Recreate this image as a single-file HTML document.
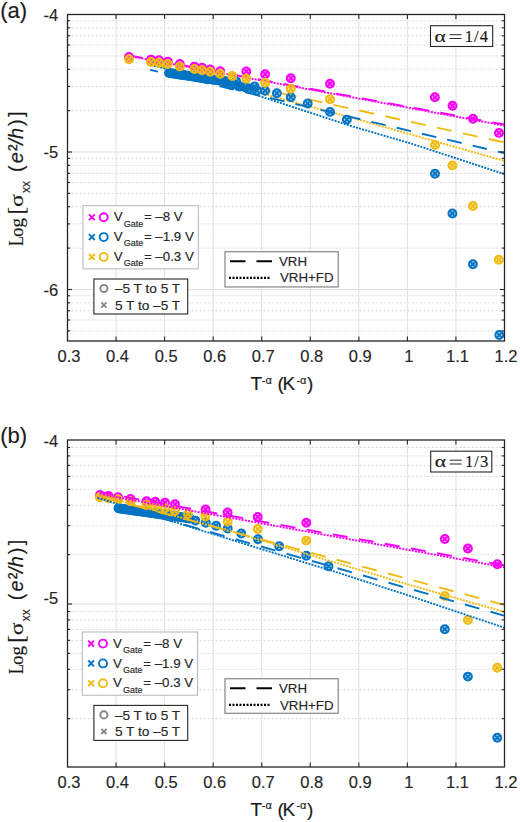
<!DOCTYPE html>
<html><head><meta charset="utf-8"><style>
html,body{margin:0;padding:0;background:#fff;}
svg{display:block;font-family:"Liberation Sans",sans-serif;}
text{stroke:#262626;stroke-width:0.15px;}
</style></head><body>
<svg width="520" height="822" viewBox="0 0 520 822">
<rect width="520" height="822" fill="#fff"/>
<line x1="116.06" y1="14.5" x2="116.06" y2="341.0" stroke="#e0e0e0" stroke-width="1"/>
<line x1="164.61" y1="14.5" x2="164.61" y2="341.0" stroke="#e0e0e0" stroke-width="1"/>
<line x1="213.17" y1="14.5" x2="213.17" y2="341.0" stroke="#e0e0e0" stroke-width="1"/>
<line x1="261.72" y1="14.5" x2="261.72" y2="341.0" stroke="#e0e0e0" stroke-width="1"/>
<line x1="310.28" y1="14.5" x2="310.28" y2="341.0" stroke="#e0e0e0" stroke-width="1"/>
<line x1="358.83" y1="14.5" x2="358.83" y2="341.0" stroke="#e0e0e0" stroke-width="1"/>
<line x1="407.39" y1="14.5" x2="407.39" y2="341.0" stroke="#e0e0e0" stroke-width="1"/>
<line x1="455.94" y1="14.5" x2="455.94" y2="341.0" stroke="#e0e0e0" stroke-width="1"/>
<line x1="67.5" y1="152.00" x2="504.5" y2="152.00" stroke="#e0e0e0" stroke-width="1"/>
<line x1="67.5" y1="110.61" x2="504.5" y2="110.61" stroke="#d8d8d8" stroke-width="1" stroke-dasharray="2 2"/>
<line x1="67.5" y1="86.40" x2="504.5" y2="86.40" stroke="#d8d8d8" stroke-width="1" stroke-dasharray="2 2"/>
<line x1="67.5" y1="69.22" x2="504.5" y2="69.22" stroke="#d8d8d8" stroke-width="1" stroke-dasharray="2 2"/>
<line x1="67.5" y1="55.89" x2="504.5" y2="55.89" stroke="#d8d8d8" stroke-width="1" stroke-dasharray="2 2"/>
<line x1="67.5" y1="45.00" x2="504.5" y2="45.00" stroke="#d8d8d8" stroke-width="1" stroke-dasharray="2 2"/>
<line x1="67.5" y1="35.80" x2="504.5" y2="35.80" stroke="#d8d8d8" stroke-width="1" stroke-dasharray="2 2"/>
<line x1="67.5" y1="27.83" x2="504.5" y2="27.83" stroke="#d8d8d8" stroke-width="1" stroke-dasharray="2 2"/>
<line x1="67.5" y1="20.79" x2="504.5" y2="20.79" stroke="#d8d8d8" stroke-width="1" stroke-dasharray="2 2"/>
<line x1="67.5" y1="289.50" x2="504.5" y2="289.50" stroke="#e0e0e0" stroke-width="1"/>
<line x1="67.5" y1="248.11" x2="504.5" y2="248.11" stroke="#d8d8d8" stroke-width="1" stroke-dasharray="2 2"/>
<line x1="67.5" y1="223.90" x2="504.5" y2="223.90" stroke="#d8d8d8" stroke-width="1" stroke-dasharray="2 2"/>
<line x1="67.5" y1="206.72" x2="504.5" y2="206.72" stroke="#d8d8d8" stroke-width="1" stroke-dasharray="2 2"/>
<line x1="67.5" y1="193.39" x2="504.5" y2="193.39" stroke="#d8d8d8" stroke-width="1" stroke-dasharray="2 2"/>
<line x1="67.5" y1="182.50" x2="504.5" y2="182.50" stroke="#d8d8d8" stroke-width="1" stroke-dasharray="2 2"/>
<line x1="67.5" y1="173.30" x2="504.5" y2="173.30" stroke="#d8d8d8" stroke-width="1" stroke-dasharray="2 2"/>
<line x1="67.5" y1="165.33" x2="504.5" y2="165.33" stroke="#d8d8d8" stroke-width="1" stroke-dasharray="2 2"/>
<line x1="67.5" y1="158.29" x2="504.5" y2="158.29" stroke="#d8d8d8" stroke-width="1" stroke-dasharray="2 2"/>
<line x1="67.5" y1="330.89" x2="504.5" y2="330.89" stroke="#d8d8d8" stroke-width="1" stroke-dasharray="2 2"/>
<line x1="67.5" y1="320.00" x2="504.5" y2="320.00" stroke="#d8d8d8" stroke-width="1" stroke-dasharray="2 2"/>
<line x1="67.5" y1="310.80" x2="504.5" y2="310.80" stroke="#d8d8d8" stroke-width="1" stroke-dasharray="2 2"/>
<line x1="67.5" y1="302.83" x2="504.5" y2="302.83" stroke="#d8d8d8" stroke-width="1" stroke-dasharray="2 2"/>
<line x1="67.5" y1="295.79" x2="504.5" y2="295.79" stroke="#d8d8d8" stroke-width="1" stroke-dasharray="2 2"/>
<path d="M132.0 56.0 L504.0 124.5" stroke="#f500f5" stroke-width="1.9" fill="none" stroke-dasharray="15 11.5" stroke-dashoffset="4.53"/>
<path d="M132.0 56.5 L504.0 125.5" stroke="#f500f5" stroke-width="1.9" fill="none" stroke-dasharray="2 1.2"/>
<path d="M150.0 64.4 L504.0 142.4" stroke="#f1bb12" stroke-width="1.9" fill="none" stroke-dasharray="15 11.5" stroke-dashoffset="24.08"/>
<path d="M150.0 63.5 L350.0 117.2 L504.0 160.8" stroke="#f1bb12" stroke-width="1.9" fill="none" stroke-dasharray="2 1.2"/>
<path d="M150.0 69.8 L504.0 153.0" stroke="#0474c4" stroke-width="1.9" fill="none" stroke-dasharray="14.8 11.2" stroke-dashoffset="6.68"/>
<path d="M151.0 65.0 L218.5 82.3 L250.0 93.0 L350.0 125.7 L413.0 144.1 L504.0 174.0" stroke="#0474c4" stroke-width="1.9" fill="none" stroke-dasharray="2 1.2"/>
<circle cx="129.0" cy="57.0" r="3.95" fill="#f500f5" fill-opacity="0.35" stroke="#f500f5" stroke-width="2.0"/><path d="M126.2 54.2L131.8 59.8M126.2 59.8L131.8 54.2" stroke="#f500f5" stroke-width="1.8" fill="none"/>
<circle cx="151.0" cy="59.6" r="3.95" fill="#f500f5" fill-opacity="0.35" stroke="#f500f5" stroke-width="2.0"/><path d="M148.2 56.8L153.8 62.4M148.2 62.4L153.8 56.8" stroke="#f500f5" stroke-width="1.8" fill="none"/>
<circle cx="159.0" cy="60.3" r="3.95" fill="#f500f5" fill-opacity="0.35" stroke="#f500f5" stroke-width="2.0"/><path d="M156.2 57.5L161.8 63.1M156.2 63.1L161.8 57.5" stroke="#f500f5" stroke-width="1.8" fill="none"/>
<circle cx="167.7" cy="61.6" r="3.95" fill="#f500f5" fill-opacity="0.35" stroke="#f500f5" stroke-width="2.0"/><path d="M164.9 58.8L170.5 64.4M164.9 64.4L170.5 58.8" stroke="#f500f5" stroke-width="1.8" fill="none"/>
<circle cx="179.8" cy="64.0" r="3.95" fill="#f500f5" fill-opacity="0.35" stroke="#f500f5" stroke-width="2.0"/><path d="M177.0 61.2L182.6 66.8M177.0 66.8L182.6 61.2" stroke="#f500f5" stroke-width="1.8" fill="none"/>
<circle cx="194.4" cy="66.6" r="3.95" fill="#f500f5" fill-opacity="0.35" stroke="#f500f5" stroke-width="2.0"/><path d="M191.6 63.8L197.2 69.4M191.6 69.4L197.2 63.8" stroke="#f500f5" stroke-width="1.8" fill="none"/>
<circle cx="202.1" cy="67.8" r="3.95" fill="#f500f5" fill-opacity="0.35" stroke="#f500f5" stroke-width="2.0"/><path d="M199.3 65.0L204.9 70.6M199.3 70.6L204.9 65.0" stroke="#f500f5" stroke-width="1.8" fill="none"/>
<circle cx="210.2" cy="69.4" r="3.95" fill="#f500f5" fill-opacity="0.35" stroke="#f500f5" stroke-width="2.0"/><path d="M207.4 66.6L213.0 72.2M207.4 72.2L213.0 66.6" stroke="#f500f5" stroke-width="1.8" fill="none"/>
<circle cx="220.2" cy="71.2" r="3.95" fill="#f500f5" fill-opacity="0.35" stroke="#f500f5" stroke-width="2.0"/><path d="M217.4 68.4L223.0 74.0M217.4 74.0L223.0 68.4" stroke="#f500f5" stroke-width="1.8" fill="none"/>
<circle cx="246.3" cy="71.4" r="3.95" fill="#f500f5" fill-opacity="0.35" stroke="#f500f5" stroke-width="2.0"/><path d="M243.5 68.6L249.1 74.2M243.5 74.2L249.1 68.6" stroke="#f500f5" stroke-width="1.8" fill="none"/>
<circle cx="265.1" cy="74.2" r="3.95" fill="#f500f5" fill-opacity="0.35" stroke="#f500f5" stroke-width="2.0"/><path d="M262.3 71.4L267.9 77.0M262.3 77.0L267.9 71.4" stroke="#f500f5" stroke-width="1.8" fill="none"/>
<circle cx="290.8" cy="78.2" r="3.95" fill="#f500f5" fill-opacity="0.35" stroke="#f500f5" stroke-width="2.0"/><path d="M288.0 75.4L293.6 81.0M288.0 81.0L293.6 75.4" stroke="#f500f5" stroke-width="1.8" fill="none"/>
<circle cx="330.0" cy="83.8" r="3.95" fill="#f500f5" fill-opacity="0.35" stroke="#f500f5" stroke-width="2.0"/><path d="M327.2 81.0L332.8 86.6M327.2 86.6L332.8 81.0" stroke="#f500f5" stroke-width="1.8" fill="none"/>
<circle cx="434.9" cy="97.3" r="3.95" fill="#f500f5" fill-opacity="0.35" stroke="#f500f5" stroke-width="2.0"/><path d="M432.1 94.5L437.7 100.1M432.1 100.1L437.7 94.5" stroke="#f500f5" stroke-width="1.8" fill="none"/>
<circle cx="452.5" cy="105.8" r="3.95" fill="#f500f5" fill-opacity="0.35" stroke="#f500f5" stroke-width="2.0"/><path d="M449.7 103.0L455.3 108.6M449.7 108.6L455.3 103.0" stroke="#f500f5" stroke-width="1.8" fill="none"/>
<circle cx="473.0" cy="118.7" r="3.95" fill="#f500f5" fill-opacity="0.35" stroke="#f500f5" stroke-width="2.0"/><path d="M470.2 115.9L475.8 121.5M470.2 121.5L475.8 115.9" stroke="#f500f5" stroke-width="1.8" fill="none"/>
<circle cx="499.0" cy="132.9" r="3.95" fill="#f500f5" fill-opacity="0.35" stroke="#f500f5" stroke-width="2.0"/><path d="M496.2 130.1L501.8 135.7M496.2 135.7L501.8 130.1" stroke="#f500f5" stroke-width="1.8" fill="none"/>
<circle cx="169.0" cy="72.9" r="3.95" fill="#0474c4" fill-opacity="0.35" stroke="#0474c4" stroke-width="2.0"/><path d="M166.2 70.1L171.8 75.7M166.2 75.7L171.8 70.1" stroke="#0474c4" stroke-width="1.8" fill="none"/>
<circle cx="170.5" cy="73.1" r="3.95" fill="#0474c4" fill-opacity="0.35" stroke="#0474c4" stroke-width="2.0"/><path d="M167.7 70.3L173.3 75.9M167.7 75.9L173.3 70.3" stroke="#0474c4" stroke-width="1.8" fill="none"/>
<circle cx="172.0" cy="73.4" r="3.95" fill="#0474c4" fill-opacity="0.35" stroke="#0474c4" stroke-width="2.0"/><path d="M169.2 70.6L174.8 76.2M169.2 76.2L174.8 70.6" stroke="#0474c4" stroke-width="1.8" fill="none"/>
<circle cx="173.5" cy="73.6" r="3.95" fill="#0474c4" fill-opacity="0.35" stroke="#0474c4" stroke-width="2.0"/><path d="M170.7 70.8L176.3 76.4M170.7 76.4L176.3 70.8" stroke="#0474c4" stroke-width="1.8" fill="none"/>
<circle cx="175.0" cy="73.8" r="3.95" fill="#0474c4" fill-opacity="0.35" stroke="#0474c4" stroke-width="2.0"/><path d="M172.2 71.0L177.8 76.6M172.2 76.6L177.8 71.0" stroke="#0474c4" stroke-width="1.8" fill="none"/>
<circle cx="176.5" cy="74.0" r="3.95" fill="#0474c4" fill-opacity="0.35" stroke="#0474c4" stroke-width="2.0"/><path d="M173.7 71.2L179.3 76.8M173.7 76.8L179.3 71.2" stroke="#0474c4" stroke-width="1.8" fill="none"/>
<circle cx="178.0" cy="74.3" r="3.95" fill="#0474c4" fill-opacity="0.35" stroke="#0474c4" stroke-width="2.0"/><path d="M175.2 71.5L180.8 77.1M175.2 77.1L180.8 71.5" stroke="#0474c4" stroke-width="1.8" fill="none"/>
<circle cx="179.5" cy="74.5" r="3.95" fill="#0474c4" fill-opacity="0.35" stroke="#0474c4" stroke-width="2.0"/><path d="M176.7 71.7L182.3 77.3M176.7 77.3L182.3 71.7" stroke="#0474c4" stroke-width="1.8" fill="none"/>
<circle cx="181.0" cy="74.7" r="3.95" fill="#0474c4" fill-opacity="0.35" stroke="#0474c4" stroke-width="2.0"/><path d="M178.2 71.9L183.8 77.5M178.2 77.5L183.8 71.9" stroke="#0474c4" stroke-width="1.8" fill="none"/>
<circle cx="182.5" cy="74.9" r="3.95" fill="#0474c4" fill-opacity="0.35" stroke="#0474c4" stroke-width="2.0"/><path d="M179.7 72.1L185.3 77.7M179.7 77.7L185.3 72.1" stroke="#0474c4" stroke-width="1.8" fill="none"/>
<circle cx="184.0" cy="75.2" r="3.95" fill="#0474c4" fill-opacity="0.35" stroke="#0474c4" stroke-width="2.0"/><path d="M181.2 72.4L186.8 78.0M181.2 78.0L186.8 72.4" stroke="#0474c4" stroke-width="1.8" fill="none"/>
<circle cx="185.5" cy="75.4" r="3.95" fill="#0474c4" fill-opacity="0.35" stroke="#0474c4" stroke-width="2.0"/><path d="M182.7 72.6L188.3 78.2M182.7 78.2L188.3 72.6" stroke="#0474c4" stroke-width="1.8" fill="none"/>
<circle cx="187.0" cy="75.6" r="3.95" fill="#0474c4" fill-opacity="0.35" stroke="#0474c4" stroke-width="2.0"/><path d="M184.2 72.8L189.8 78.4M184.2 78.4L189.8 72.8" stroke="#0474c4" stroke-width="1.8" fill="none"/>
<circle cx="188.5" cy="75.8" r="3.95" fill="#0474c4" fill-opacity="0.35" stroke="#0474c4" stroke-width="2.0"/><path d="M185.7 73.0L191.3 78.6M185.7 78.6L191.3 73.0" stroke="#0474c4" stroke-width="1.8" fill="none"/>
<circle cx="190.0" cy="76.1" r="3.95" fill="#0474c4" fill-opacity="0.35" stroke="#0474c4" stroke-width="2.0"/><path d="M187.2 73.3L192.8 78.9M187.2 78.9L192.8 73.3" stroke="#0474c4" stroke-width="1.8" fill="none"/>
<circle cx="191.5" cy="76.3" r="3.95" fill="#0474c4" fill-opacity="0.35" stroke="#0474c4" stroke-width="2.0"/><path d="M188.7 73.5L194.3 79.1M188.7 79.1L194.3 73.5" stroke="#0474c4" stroke-width="1.8" fill="none"/>
<circle cx="193.0" cy="76.5" r="3.95" fill="#0474c4" fill-opacity="0.35" stroke="#0474c4" stroke-width="2.0"/><path d="M190.2 73.7L195.8 79.3M190.2 79.3L195.8 73.7" stroke="#0474c4" stroke-width="1.8" fill="none"/>
<circle cx="194.5" cy="76.7" r="3.95" fill="#0474c4" fill-opacity="0.35" stroke="#0474c4" stroke-width="2.0"/><path d="M191.7 73.9L197.3 79.5M191.7 79.5L197.3 73.9" stroke="#0474c4" stroke-width="1.8" fill="none"/>
<circle cx="196.0" cy="77.0" r="3.95" fill="#0474c4" fill-opacity="0.35" stroke="#0474c4" stroke-width="2.0"/><path d="M193.2 74.2L198.8 79.8M193.2 79.8L198.8 74.2" stroke="#0474c4" stroke-width="1.8" fill="none"/>
<circle cx="197.5" cy="77.2" r="3.95" fill="#0474c4" fill-opacity="0.35" stroke="#0474c4" stroke-width="2.0"/><path d="M194.7 74.4L200.3 80.0M194.7 80.0L200.3 74.4" stroke="#0474c4" stroke-width="1.8" fill="none"/>
<circle cx="199.0" cy="77.4" r="3.95" fill="#0474c4" fill-opacity="0.35" stroke="#0474c4" stroke-width="2.0"/><path d="M196.2 74.6L201.8 80.2M196.2 80.2L201.8 74.6" stroke="#0474c4" stroke-width="1.8" fill="none"/>
<circle cx="200.5" cy="77.7" r="3.95" fill="#0474c4" fill-opacity="0.35" stroke="#0474c4" stroke-width="2.0"/><path d="M197.7 74.9L203.3 80.5M197.7 80.5L203.3 74.9" stroke="#0474c4" stroke-width="1.8" fill="none"/>
<circle cx="202.0" cy="77.9" r="3.95" fill="#0474c4" fill-opacity="0.35" stroke="#0474c4" stroke-width="2.0"/><path d="M199.2 75.1L204.8 80.7M199.2 80.7L204.8 75.1" stroke="#0474c4" stroke-width="1.8" fill="none"/>
<circle cx="203.5" cy="78.1" r="3.95" fill="#0474c4" fill-opacity="0.35" stroke="#0474c4" stroke-width="2.0"/><path d="M200.7 75.3L206.3 80.9M200.7 80.9L206.3 75.3" stroke="#0474c4" stroke-width="1.8" fill="none"/>
<circle cx="205.0" cy="78.3" r="3.95" fill="#0474c4" fill-opacity="0.35" stroke="#0474c4" stroke-width="2.0"/><path d="M202.2 75.5L207.8 81.1M202.2 81.1L207.8 75.5" stroke="#0474c4" stroke-width="1.8" fill="none"/>
<circle cx="206.5" cy="78.6" r="3.95" fill="#0474c4" fill-opacity="0.35" stroke="#0474c4" stroke-width="2.0"/><path d="M203.7 75.8L209.3 81.4M203.7 81.4L209.3 75.8" stroke="#0474c4" stroke-width="1.8" fill="none"/>
<circle cx="208.0" cy="78.8" r="3.95" fill="#0474c4" fill-opacity="0.35" stroke="#0474c4" stroke-width="2.0"/><path d="M205.2 76.0L210.8 81.6M205.2 81.6L210.8 76.0" stroke="#0474c4" stroke-width="1.8" fill="none"/>
<circle cx="209.5" cy="79.0" r="3.95" fill="#0474c4" fill-opacity="0.35" stroke="#0474c4" stroke-width="2.0"/><path d="M206.7 76.2L212.3 81.8M206.7 81.8L212.3 76.2" stroke="#0474c4" stroke-width="1.8" fill="none"/>
<circle cx="211.0" cy="79.2" r="3.95" fill="#0474c4" fill-opacity="0.35" stroke="#0474c4" stroke-width="2.0"/><path d="M208.2 76.4L213.8 82.0M208.2 82.0L213.8 76.4" stroke="#0474c4" stroke-width="1.8" fill="none"/>
<circle cx="212.5" cy="79.5" r="3.95" fill="#0474c4" fill-opacity="0.35" stroke="#0474c4" stroke-width="2.0"/><path d="M209.7 76.7L215.3 82.3M209.7 82.3L215.3 76.7" stroke="#0474c4" stroke-width="1.8" fill="none"/>
<circle cx="214.0" cy="79.7" r="3.95" fill="#0474c4" fill-opacity="0.35" stroke="#0474c4" stroke-width="2.0"/><path d="M211.2 76.9L216.8 82.5M211.2 82.5L216.8 76.9" stroke="#0474c4" stroke-width="1.8" fill="none"/>
<circle cx="215.5" cy="79.9" r="3.95" fill="#0474c4" fill-opacity="0.35" stroke="#0474c4" stroke-width="2.0"/><path d="M212.7 77.1L218.3 82.7M212.7 82.7L218.3 77.1" stroke="#0474c4" stroke-width="1.8" fill="none"/>
<circle cx="217.0" cy="80.1" r="3.95" fill="#0474c4" fill-opacity="0.35" stroke="#0474c4" stroke-width="2.0"/><path d="M214.2 77.3L219.8 82.9M214.2 82.9L219.8 77.3" stroke="#0474c4" stroke-width="1.8" fill="none"/>
<circle cx="218.5" cy="80.4" r="3.95" fill="#0474c4" fill-opacity="0.35" stroke="#0474c4" stroke-width="2.0"/><path d="M215.7 77.6L221.3 83.2M215.7 83.2L221.3 77.6" stroke="#0474c4" stroke-width="1.8" fill="none"/>
<circle cx="220.0" cy="80.6" r="3.95" fill="#0474c4" fill-opacity="0.35" stroke="#0474c4" stroke-width="2.0"/><path d="M217.2 77.8L222.8 83.4M217.2 83.4L222.8 77.8" stroke="#0474c4" stroke-width="1.8" fill="none"/>
<circle cx="221.5" cy="80.8" r="3.95" fill="#0474c4" fill-opacity="0.35" stroke="#0474c4" stroke-width="2.0"/><path d="M218.7 78.0L224.3 83.6M218.7 83.6L224.3 78.0" stroke="#0474c4" stroke-width="1.8" fill="none"/>
<circle cx="223.0" cy="81.0" r="3.95" fill="#0474c4" fill-opacity="0.35" stroke="#0474c4" stroke-width="2.0"/><path d="M220.2 78.2L225.8 83.8M220.2 83.8L225.8 78.2" stroke="#0474c4" stroke-width="1.8" fill="none"/>
<circle cx="224.5" cy="81.3" r="3.95" fill="#0474c4" fill-opacity="0.35" stroke="#0474c4" stroke-width="2.0"/><path d="M221.7 78.5L227.3 84.1M221.7 84.1L227.3 78.5" stroke="#0474c4" stroke-width="1.8" fill="none"/>
<circle cx="226.0" cy="81.5" r="3.95" fill="#0474c4" fill-opacity="0.35" stroke="#0474c4" stroke-width="2.0"/><path d="M223.2 78.7L228.8 84.3M223.2 84.3L228.8 78.7" stroke="#0474c4" stroke-width="1.8" fill="none"/>
<circle cx="231.0" cy="85.0" r="3.95" fill="#0474c4" fill-opacity="0.35" stroke="#0474c4" stroke-width="2.0"/><path d="M228.2 82.2L233.8 87.8M228.2 87.8L233.8 82.2" stroke="#0474c4" stroke-width="1.8" fill="none"/>
<circle cx="240.0" cy="86.5" r="3.95" fill="#0474c4" fill-opacity="0.35" stroke="#0474c4" stroke-width="2.0"/><path d="M237.2 83.7L242.8 89.3M237.2 89.3L242.8 83.7" stroke="#0474c4" stroke-width="1.8" fill="none"/>
<circle cx="249.0" cy="88.5" r="3.95" fill="#0474c4" fill-opacity="0.35" stroke="#0474c4" stroke-width="2.0"/><path d="M246.2 85.7L251.8 91.3M246.2 91.3L251.8 85.7" stroke="#0474c4" stroke-width="1.8" fill="none"/>
<circle cx="257.0" cy="90.5" r="3.95" fill="#0474c4" fill-opacity="0.35" stroke="#0474c4" stroke-width="2.0"/><path d="M254.2 87.7L259.8 93.3M254.2 93.3L259.8 87.7" stroke="#0474c4" stroke-width="1.8" fill="none"/>
<circle cx="228.0" cy="83.8" r="3.95" fill="#0474c4" fill-opacity="0.35" stroke="#0474c4" stroke-width="2.0"/><path d="M225.2 81.0L230.8 86.6M225.2 86.6L230.8 81.0" stroke="#0474c4" stroke-width="1.8" fill="none"/>
<circle cx="236.2" cy="81.5" r="3.95" fill="#0474c4" fill-opacity="0.35" stroke="#0474c4" stroke-width="2.0"/><path d="M233.4 78.7L239.0 84.3M233.4 84.3L239.0 78.7" stroke="#0474c4" stroke-width="1.8" fill="none"/>
<circle cx="238.5" cy="86.2" r="3.95" fill="#0474c4" fill-opacity="0.35" stroke="#0474c4" stroke-width="2.0"/><path d="M235.7 83.4L241.3 89.0M235.7 89.0L241.3 83.4" stroke="#0474c4" stroke-width="1.8" fill="none"/>
<circle cx="245.4" cy="87.3" r="3.95" fill="#0474c4" fill-opacity="0.35" stroke="#0474c4" stroke-width="2.0"/><path d="M242.6 84.5L248.2 90.1M242.6 90.1L248.2 84.5" stroke="#0474c4" stroke-width="1.8" fill="none"/>
<circle cx="254.6" cy="86.5" r="3.95" fill="#0474c4" fill-opacity="0.35" stroke="#0474c4" stroke-width="2.0"/><path d="M251.8 83.7L257.4 89.3M251.8 89.3L257.4 83.7" stroke="#0474c4" stroke-width="1.8" fill="none"/>
<circle cx="265.1" cy="90.7" r="3.95" fill="#0474c4" fill-opacity="0.35" stroke="#0474c4" stroke-width="2.0"/><path d="M262.3 87.9L267.9 93.5M262.3 93.5L267.9 87.9" stroke="#0474c4" stroke-width="1.8" fill="none"/>
<circle cx="276.9" cy="93.2" r="3.95" fill="#0474c4" fill-opacity="0.35" stroke="#0474c4" stroke-width="2.0"/><path d="M274.1 90.4L279.7 96.0M274.1 96.0L279.7 90.4" stroke="#0474c4" stroke-width="1.8" fill="none"/>
<circle cx="290.8" cy="97.3" r="3.95" fill="#0474c4" fill-opacity="0.35" stroke="#0474c4" stroke-width="2.0"/><path d="M288.0 94.5L293.6 100.1M288.0 100.1L293.6 94.5" stroke="#0474c4" stroke-width="1.8" fill="none"/>
<circle cx="307.7" cy="103.5" r="3.95" fill="#0474c4" fill-opacity="0.35" stroke="#0474c4" stroke-width="2.0"/><path d="M304.9 100.7L310.5 106.3M304.9 106.3L310.5 100.7" stroke="#0474c4" stroke-width="1.8" fill="none"/>
<circle cx="330.0" cy="111.9" r="3.95" fill="#0474c4" fill-opacity="0.35" stroke="#0474c4" stroke-width="2.0"/><path d="M327.2 109.1L332.8 114.7M327.2 114.7L332.8 109.1" stroke="#0474c4" stroke-width="1.8" fill="none"/>
<circle cx="346.9" cy="119.6" r="3.95" fill="#0474c4" fill-opacity="0.35" stroke="#0474c4" stroke-width="2.0"/><path d="M344.1 116.8L349.7 122.4M344.1 122.4L349.7 116.8" stroke="#0474c4" stroke-width="1.8" fill="none"/>
<circle cx="435.0" cy="173.7" r="3.95" fill="#0474c4" fill-opacity="0.35" stroke="#0474c4" stroke-width="2.0"/><path d="M432.2 170.9L437.8 176.5M432.2 176.5L437.8 170.9" stroke="#0474c4" stroke-width="1.8" fill="none"/>
<circle cx="452.4" cy="213.5" r="3.95" fill="#0474c4" fill-opacity="0.35" stroke="#0474c4" stroke-width="2.0"/><path d="M449.6 210.7L455.2 216.3M449.6 216.3L455.2 210.7" stroke="#0474c4" stroke-width="1.8" fill="none"/>
<circle cx="472.9" cy="264.2" r="3.95" fill="#0474c4" fill-opacity="0.35" stroke="#0474c4" stroke-width="2.0"/><path d="M470.1 261.4L475.7 267.0M470.1 267.0L475.7 261.4" stroke="#0474c4" stroke-width="1.8" fill="none"/>
<circle cx="499.3" cy="335.0" r="3.95" fill="#0474c4" fill-opacity="0.35" stroke="#0474c4" stroke-width="2.0"/><path d="M496.5 332.2L502.1 337.8M496.5 337.8L502.1 332.2" stroke="#0474c4" stroke-width="1.8" fill="none"/>
<circle cx="129.1" cy="59.2" r="3.95" fill="#f1bb12" fill-opacity="0.35" stroke="#f1bb12" stroke-width="2.0"/><path d="M126.3 56.4L131.9 62.0M126.3 62.0L131.9 56.4" stroke="#f1bb12" stroke-width="1.8" fill="none"/>
<circle cx="151.0" cy="62.0" r="3.95" fill="#f1bb12" fill-opacity="0.35" stroke="#f1bb12" stroke-width="2.0"/><path d="M148.2 59.2L153.8 64.8M148.2 64.8L153.8 59.2" stroke="#f1bb12" stroke-width="1.8" fill="none"/>
<circle cx="159.0" cy="62.7" r="3.95" fill="#f1bb12" fill-opacity="0.35" stroke="#f1bb12" stroke-width="2.0"/><path d="M156.2 59.9L161.8 65.5M156.2 65.5L161.8 59.9" stroke="#f1bb12" stroke-width="1.8" fill="none"/>
<circle cx="167.7" cy="64.0" r="3.95" fill="#f1bb12" fill-opacity="0.35" stroke="#f1bb12" stroke-width="2.0"/><path d="M164.9 61.2L170.5 66.8M164.9 66.8L170.5 61.2" stroke="#f1bb12" stroke-width="1.8" fill="none"/>
<circle cx="179.8" cy="66.4" r="3.95" fill="#f1bb12" fill-opacity="0.35" stroke="#f1bb12" stroke-width="2.0"/><path d="M177.0 63.6L182.6 69.2M177.0 69.2L182.6 63.6" stroke="#f1bb12" stroke-width="1.8" fill="none"/>
<circle cx="194.4" cy="69.0" r="3.95" fill="#f1bb12" fill-opacity="0.35" stroke="#f1bb12" stroke-width="2.0"/><path d="M191.6 66.2L197.2 71.8M191.6 71.8L197.2 66.2" stroke="#f1bb12" stroke-width="1.8" fill="none"/>
<circle cx="202.1" cy="70.2" r="3.95" fill="#f1bb12" fill-opacity="0.35" stroke="#f1bb12" stroke-width="2.0"/><path d="M199.3 67.4L204.9 73.0M199.3 73.0L204.9 67.4" stroke="#f1bb12" stroke-width="1.8" fill="none"/>
<circle cx="210.2" cy="71.8" r="3.95" fill="#f1bb12" fill-opacity="0.35" stroke="#f1bb12" stroke-width="2.0"/><path d="M207.4 69.0L213.0 74.6M207.4 74.6L213.0 69.0" stroke="#f1bb12" stroke-width="1.8" fill="none"/>
<circle cx="220.2" cy="73.7" r="3.95" fill="#f1bb12" fill-opacity="0.35" stroke="#f1bb12" stroke-width="2.0"/><path d="M217.4 70.9L223.0 76.5M217.4 76.5L223.0 70.9" stroke="#f1bb12" stroke-width="1.8" fill="none"/>
<circle cx="232.2" cy="76.0" r="3.95" fill="#f1bb12" fill-opacity="0.35" stroke="#f1bb12" stroke-width="2.0"/><path d="M229.4 73.2L235.0 78.8M229.4 78.8L235.0 73.2" stroke="#f1bb12" stroke-width="1.8" fill="none"/>
<circle cx="246.3" cy="78.8" r="3.95" fill="#f1bb12" fill-opacity="0.35" stroke="#f1bb12" stroke-width="2.0"/><path d="M243.5 76.0L249.1 81.6M243.5 81.6L249.1 76.0" stroke="#f1bb12" stroke-width="1.8" fill="none"/>
<circle cx="265.1" cy="82.7" r="3.95" fill="#f1bb12" fill-opacity="0.35" stroke="#f1bb12" stroke-width="2.0"/><path d="M262.3 79.9L267.9 85.5M262.3 85.5L267.9 79.9" stroke="#f1bb12" stroke-width="1.8" fill="none"/>
<circle cx="290.8" cy="88.8" r="3.95" fill="#f1bb12" fill-opacity="0.35" stroke="#f1bb12" stroke-width="2.0"/><path d="M288.0 86.0L293.6 91.6M288.0 91.6L293.6 86.0" stroke="#f1bb12" stroke-width="1.8" fill="none"/>
<circle cx="330.0" cy="99.2" r="3.95" fill="#f1bb12" fill-opacity="0.35" stroke="#f1bb12" stroke-width="2.0"/><path d="M327.2 96.4L332.8 102.0M327.2 102.0L332.8 96.4" stroke="#f1bb12" stroke-width="1.8" fill="none"/>
<circle cx="435.0" cy="145.0" r="3.95" fill="#f1bb12" fill-opacity="0.35" stroke="#f1bb12" stroke-width="2.0"/><path d="M432.2 142.2L437.8 147.8M432.2 147.8L437.8 142.2" stroke="#f1bb12" stroke-width="1.8" fill="none"/>
<circle cx="452.4" cy="165.4" r="3.95" fill="#f1bb12" fill-opacity="0.35" stroke="#f1bb12" stroke-width="2.0"/><path d="M449.6 162.6L455.2 168.2M449.6 168.2L455.2 162.6" stroke="#f1bb12" stroke-width="1.8" fill="none"/>
<circle cx="472.9" cy="206.0" r="3.95" fill="#f1bb12" fill-opacity="0.35" stroke="#f1bb12" stroke-width="2.0"/><path d="M470.1 203.2L475.7 208.8M470.1 208.8L475.7 203.2" stroke="#f1bb12" stroke-width="1.8" fill="none"/>
<circle cx="498.8" cy="259.7" r="3.95" fill="#f1bb12" fill-opacity="0.35" stroke="#f1bb12" stroke-width="2.0"/><path d="M496.0 256.9L501.6 262.5M496.0 262.5L501.6 256.9" stroke="#f1bb12" stroke-width="1.8" fill="none"/>
<line x1="116.06" y1="341.0" x2="116.06" y2="336.5" stroke="#262626" stroke-width="1.1"/>
<line x1="116.06" y1="14.5" x2="116.06" y2="19.0" stroke="#262626" stroke-width="1.1"/>
<line x1="164.61" y1="341.0" x2="164.61" y2="336.5" stroke="#262626" stroke-width="1.1"/>
<line x1="164.61" y1="14.5" x2="164.61" y2="19.0" stroke="#262626" stroke-width="1.1"/>
<line x1="213.17" y1="341.0" x2="213.17" y2="336.5" stroke="#262626" stroke-width="1.1"/>
<line x1="213.17" y1="14.5" x2="213.17" y2="19.0" stroke="#262626" stroke-width="1.1"/>
<line x1="261.72" y1="341.0" x2="261.72" y2="336.5" stroke="#262626" stroke-width="1.1"/>
<line x1="261.72" y1="14.5" x2="261.72" y2="19.0" stroke="#262626" stroke-width="1.1"/>
<line x1="310.28" y1="341.0" x2="310.28" y2="336.5" stroke="#262626" stroke-width="1.1"/>
<line x1="310.28" y1="14.5" x2="310.28" y2="19.0" stroke="#262626" stroke-width="1.1"/>
<line x1="358.83" y1="341.0" x2="358.83" y2="336.5" stroke="#262626" stroke-width="1.1"/>
<line x1="358.83" y1="14.5" x2="358.83" y2="19.0" stroke="#262626" stroke-width="1.1"/>
<line x1="407.39" y1="341.0" x2="407.39" y2="336.5" stroke="#262626" stroke-width="1.1"/>
<line x1="407.39" y1="14.5" x2="407.39" y2="19.0" stroke="#262626" stroke-width="1.1"/>
<line x1="455.94" y1="341.0" x2="455.94" y2="336.5" stroke="#262626" stroke-width="1.1"/>
<line x1="455.94" y1="14.5" x2="455.94" y2="19.0" stroke="#262626" stroke-width="1.1"/>
<line x1="67.5" y1="152.00" x2="72.0" y2="152.00" stroke="#262626" stroke-width="1.1"/>
<line x1="504.5" y1="152.00" x2="500.0" y2="152.00" stroke="#262626" stroke-width="1.1"/>
<line x1="67.5" y1="110.61" x2="70.2" y2="110.61" stroke="#262626" stroke-width="1.1"/>
<line x1="504.5" y1="110.61" x2="501.8" y2="110.61" stroke="#262626" stroke-width="1.1"/>
<line x1="67.5" y1="86.40" x2="70.2" y2="86.40" stroke="#262626" stroke-width="1.1"/>
<line x1="504.5" y1="86.40" x2="501.8" y2="86.40" stroke="#262626" stroke-width="1.1"/>
<line x1="67.5" y1="69.22" x2="70.2" y2="69.22" stroke="#262626" stroke-width="1.1"/>
<line x1="504.5" y1="69.22" x2="501.8" y2="69.22" stroke="#262626" stroke-width="1.1"/>
<line x1="67.5" y1="55.89" x2="70.2" y2="55.89" stroke="#262626" stroke-width="1.1"/>
<line x1="504.5" y1="55.89" x2="501.8" y2="55.89" stroke="#262626" stroke-width="1.1"/>
<line x1="67.5" y1="45.00" x2="70.2" y2="45.00" stroke="#262626" stroke-width="1.1"/>
<line x1="504.5" y1="45.00" x2="501.8" y2="45.00" stroke="#262626" stroke-width="1.1"/>
<line x1="67.5" y1="35.80" x2="70.2" y2="35.80" stroke="#262626" stroke-width="1.1"/>
<line x1="504.5" y1="35.80" x2="501.8" y2="35.80" stroke="#262626" stroke-width="1.1"/>
<line x1="67.5" y1="27.83" x2="70.2" y2="27.83" stroke="#262626" stroke-width="1.1"/>
<line x1="504.5" y1="27.83" x2="501.8" y2="27.83" stroke="#262626" stroke-width="1.1"/>
<line x1="67.5" y1="20.79" x2="70.2" y2="20.79" stroke="#262626" stroke-width="1.1"/>
<line x1="504.5" y1="20.79" x2="501.8" y2="20.79" stroke="#262626" stroke-width="1.1"/>
<line x1="67.5" y1="289.50" x2="72.0" y2="289.50" stroke="#262626" stroke-width="1.1"/>
<line x1="504.5" y1="289.50" x2="500.0" y2="289.50" stroke="#262626" stroke-width="1.1"/>
<line x1="67.5" y1="248.11" x2="70.2" y2="248.11" stroke="#262626" stroke-width="1.1"/>
<line x1="504.5" y1="248.11" x2="501.8" y2="248.11" stroke="#262626" stroke-width="1.1"/>
<line x1="67.5" y1="223.90" x2="70.2" y2="223.90" stroke="#262626" stroke-width="1.1"/>
<line x1="504.5" y1="223.90" x2="501.8" y2="223.90" stroke="#262626" stroke-width="1.1"/>
<line x1="67.5" y1="206.72" x2="70.2" y2="206.72" stroke="#262626" stroke-width="1.1"/>
<line x1="504.5" y1="206.72" x2="501.8" y2="206.72" stroke="#262626" stroke-width="1.1"/>
<line x1="67.5" y1="193.39" x2="70.2" y2="193.39" stroke="#262626" stroke-width="1.1"/>
<line x1="504.5" y1="193.39" x2="501.8" y2="193.39" stroke="#262626" stroke-width="1.1"/>
<line x1="67.5" y1="182.50" x2="70.2" y2="182.50" stroke="#262626" stroke-width="1.1"/>
<line x1="504.5" y1="182.50" x2="501.8" y2="182.50" stroke="#262626" stroke-width="1.1"/>
<line x1="67.5" y1="173.30" x2="70.2" y2="173.30" stroke="#262626" stroke-width="1.1"/>
<line x1="504.5" y1="173.30" x2="501.8" y2="173.30" stroke="#262626" stroke-width="1.1"/>
<line x1="67.5" y1="165.33" x2="70.2" y2="165.33" stroke="#262626" stroke-width="1.1"/>
<line x1="504.5" y1="165.33" x2="501.8" y2="165.33" stroke="#262626" stroke-width="1.1"/>
<line x1="67.5" y1="158.29" x2="70.2" y2="158.29" stroke="#262626" stroke-width="1.1"/>
<line x1="504.5" y1="158.29" x2="501.8" y2="158.29" stroke="#262626" stroke-width="1.1"/>
<line x1="67.5" y1="330.89" x2="70.2" y2="330.89" stroke="#262626" stroke-width="1.1"/>
<line x1="504.5" y1="330.89" x2="501.8" y2="330.89" stroke="#262626" stroke-width="1.1"/>
<line x1="67.5" y1="320.00" x2="70.2" y2="320.00" stroke="#262626" stroke-width="1.1"/>
<line x1="504.5" y1="320.00" x2="501.8" y2="320.00" stroke="#262626" stroke-width="1.1"/>
<line x1="67.5" y1="310.80" x2="70.2" y2="310.80" stroke="#262626" stroke-width="1.1"/>
<line x1="504.5" y1="310.80" x2="501.8" y2="310.80" stroke="#262626" stroke-width="1.1"/>
<line x1="67.5" y1="302.83" x2="70.2" y2="302.83" stroke="#262626" stroke-width="1.1"/>
<line x1="504.5" y1="302.83" x2="501.8" y2="302.83" stroke="#262626" stroke-width="1.1"/>
<line x1="67.5" y1="295.79" x2="70.2" y2="295.79" stroke="#262626" stroke-width="1.1"/>
<line x1="504.5" y1="295.79" x2="501.8" y2="295.79" stroke="#262626" stroke-width="1.1"/>
<rect x="67.5" y="14.5" width="437.0" height="326.5" fill="none" stroke="#262626" stroke-width="1.3"/>
<text x="69.00" y="362.0" font-size="16.5" text-anchor="middle" fill="#262626">0.3</text>
<text x="117.56" y="362.0" font-size="16.5" text-anchor="middle" fill="#262626">0.4</text>
<text x="166.11" y="362.0" font-size="16.5" text-anchor="middle" fill="#262626">0.5</text>
<text x="214.67" y="362.0" font-size="16.5" text-anchor="middle" fill="#262626">0.6</text>
<text x="263.22" y="362.0" font-size="16.5" text-anchor="middle" fill="#262626">0.7</text>
<text x="311.78" y="362.0" font-size="16.5" text-anchor="middle" fill="#262626">0.8</text>
<text x="360.33" y="362.0" font-size="16.5" text-anchor="middle" fill="#262626">0.9</text>
<text x="408.89" y="362.0" font-size="16.5" text-anchor="middle" fill="#262626">1</text>
<text x="457.44" y="362.0" font-size="16.5" text-anchor="middle" fill="#262626">1.1</text>
<text x="506.00" y="362.0" font-size="16.5" text-anchor="middle" fill="#262626">1.2</text>
<text x="58.2" y="20.50" font-size="16.5" text-anchor="end" fill="#262626">-4</text>
<text x="58.2" y="158.00" font-size="16.5" text-anchor="end" fill="#262626">-5</text>
<text x="58.2" y="295.50" font-size="16.5" text-anchor="end" fill="#262626">-6</text>
<rect x="83" y="205.7" width="115.3" height="63.2" fill="#fff" stroke="#b4b4bc" stroke-width="1"/>
<path d="M88.9 214.4L94.7 220.2M88.9 220.2L94.7 214.4" stroke="#f500f5" stroke-width="1.9" fill="none"/>
<circle cx="103.7" cy="217.3" r="4" fill="none" stroke="#f500f5" stroke-width="1.9"/>
<text x="113.8" y="221.4" font-size="13.3" fill="#262626">V</text>
<text x="123.8" y="226.6" font-size="9" fill="#262626">Gate</text>
<text x="143.9" y="221.4" font-size="13.3" fill="#262626">= –8 V</text>
<path d="M88.9 234.2L94.7 240.0M88.9 240.0L94.7 234.2" stroke="#0474c4" stroke-width="1.9" fill="none"/>
<circle cx="103.7" cy="237.1" r="4" fill="none" stroke="#0474c4" stroke-width="1.9"/>
<text x="113.8" y="241.2" font-size="13.3" fill="#262626">V</text>
<text x="123.8" y="246.4" font-size="9" fill="#262626">Gate</text>
<text x="143.9" y="241.2" font-size="13.3" fill="#262626">= –1.9 V</text>
<path d="M88.9 254.0L94.7 259.8M88.9 259.8L94.7 254.0" stroke="#f1bb12" stroke-width="1.9" fill="none"/>
<circle cx="103.7" cy="256.9" r="4" fill="none" stroke="#f1bb12" stroke-width="1.9"/>
<text x="113.8" y="261.0" font-size="13.3" fill="#262626">V</text>
<text x="123.8" y="266.2" font-size="9" fill="#262626">Gate</text>
<text x="143.9" y="261.0" font-size="13.3" fill="#262626">= –0.3 V</text>
<rect x="93.9" y="279" width="93.8" height="35" fill="#fff" stroke="#262626" stroke-width="1.1"/>
<circle cx="103.9" cy="288.5" r="3.6" fill="none" stroke="#858585" stroke-width="1.9"/>
<path d="M101.3 302.4L106.5 307.6M101.3 307.6L106.5 302.4" stroke="#858585" stroke-width="1.8" fill="none"/>
<text x="114.9" y="293.1" font-size="13.65" fill="#262626">–5 T to 5 T</text>
<text x="114.9" y="309.6" font-size="13.65" fill="#262626">5 T to –5 T</text>
<rect x="225" y="251.75" width="113.2" height="35.2" fill="#fff" stroke="#7a7a7a" stroke-width="1.1"/>
<path d="M230 261.25H272" stroke="#000" stroke-width="2.2" stroke-dasharray="15.5 11"/>
<path d="M229 277.95H271" stroke="#000" stroke-width="2.2" stroke-dasharray="2 1.5"/>
<text x="279.0" y="265.8" font-size="13.3" fill="#262626">VRH</text>
<text x="280.0" y="282.4" font-size="13.3" fill="#262626">VRH+FD</text>
<rect x="430.5" y="25.7" width="62.2" height="20.8" fill="#fff" stroke="#262626" stroke-width="1.1"/>
<text x="342.13" y="41.9" font-size="17" font-family="Liberation Serif" fill="#1a1a1a" transform="scale(1.27,1)">α</text>
<path d="M449.5 34.7H461.5M449.5 38.5H461.5" stroke="#111" stroke-width="0.9"/>
<text x="464.7" y="41.9" font-size="16.5" font-family="Liberation Serif" fill="#111" letter-spacing="1.1">1/4</text>
<line x1="116.06" y1="440.0" x2="116.06" y2="767.0" stroke="#e0e0e0" stroke-width="1"/>
<line x1="164.61" y1="440.0" x2="164.61" y2="767.0" stroke="#e0e0e0" stroke-width="1"/>
<line x1="213.17" y1="440.0" x2="213.17" y2="767.0" stroke="#e0e0e0" stroke-width="1"/>
<line x1="261.72" y1="440.0" x2="261.72" y2="767.0" stroke="#e0e0e0" stroke-width="1"/>
<line x1="310.28" y1="440.0" x2="310.28" y2="767.0" stroke="#e0e0e0" stroke-width="1"/>
<line x1="358.83" y1="440.0" x2="358.83" y2="767.0" stroke="#e0e0e0" stroke-width="1"/>
<line x1="407.39" y1="440.0" x2="407.39" y2="767.0" stroke="#e0e0e0" stroke-width="1"/>
<line x1="455.94" y1="440.0" x2="455.94" y2="767.0" stroke="#e0e0e0" stroke-width="1"/>
<line x1="67.5" y1="604.00" x2="504.5" y2="604.00" stroke="#e0e0e0" stroke-width="1"/>
<line x1="67.5" y1="554.63" x2="504.5" y2="554.63" stroke="#d8d8d8" stroke-width="1" stroke-dasharray="2 2"/>
<line x1="67.5" y1="525.75" x2="504.5" y2="525.75" stroke="#d8d8d8" stroke-width="1" stroke-dasharray="2 2"/>
<line x1="67.5" y1="505.26" x2="504.5" y2="505.26" stroke="#d8d8d8" stroke-width="1" stroke-dasharray="2 2"/>
<line x1="67.5" y1="489.37" x2="504.5" y2="489.37" stroke="#d8d8d8" stroke-width="1" stroke-dasharray="2 2"/>
<line x1="67.5" y1="476.38" x2="504.5" y2="476.38" stroke="#d8d8d8" stroke-width="1" stroke-dasharray="2 2"/>
<line x1="67.5" y1="465.40" x2="504.5" y2="465.40" stroke="#d8d8d8" stroke-width="1" stroke-dasharray="2 2"/>
<line x1="67.5" y1="455.89" x2="504.5" y2="455.89" stroke="#d8d8d8" stroke-width="1" stroke-dasharray="2 2"/>
<line x1="67.5" y1="447.50" x2="504.5" y2="447.50" stroke="#d8d8d8" stroke-width="1" stroke-dasharray="2 2"/>
<line x1="67.5" y1="718.63" x2="504.5" y2="718.63" stroke="#d8d8d8" stroke-width="1" stroke-dasharray="2 2"/>
<line x1="67.5" y1="689.75" x2="504.5" y2="689.75" stroke="#d8d8d8" stroke-width="1" stroke-dasharray="2 2"/>
<line x1="67.5" y1="669.26" x2="504.5" y2="669.26" stroke="#d8d8d8" stroke-width="1" stroke-dasharray="2 2"/>
<line x1="67.5" y1="653.37" x2="504.5" y2="653.37" stroke="#d8d8d8" stroke-width="1" stroke-dasharray="2 2"/>
<line x1="67.5" y1="640.38" x2="504.5" y2="640.38" stroke="#d8d8d8" stroke-width="1" stroke-dasharray="2 2"/>
<line x1="67.5" y1="629.40" x2="504.5" y2="629.40" stroke="#d8d8d8" stroke-width="1" stroke-dasharray="2 2"/>
<line x1="67.5" y1="619.89" x2="504.5" y2="619.89" stroke="#d8d8d8" stroke-width="1" stroke-dasharray="2 2"/>
<line x1="67.5" y1="611.50" x2="504.5" y2="611.50" stroke="#d8d8d8" stroke-width="1" stroke-dasharray="2 2"/>
<circle cx="100.0" cy="494.9" r="3.95" fill="#f500f5" fill-opacity="0.35" stroke="#f500f5" stroke-width="2.0"/><path d="M97.2 492.1L102.8 497.7M97.2 497.7L102.8 492.1" stroke="#f500f5" stroke-width="1.8" fill="none"/>
<circle cx="108.5" cy="496.0" r="3.95" fill="#f500f5" fill-opacity="0.35" stroke="#f500f5" stroke-width="2.0"/><path d="M105.7 493.2L111.3 498.8M105.7 498.8L111.3 493.2" stroke="#f500f5" stroke-width="1.8" fill="none"/>
<circle cx="118.0" cy="497.2" r="3.95" fill="#f500f5" fill-opacity="0.35" stroke="#f500f5" stroke-width="2.0"/><path d="M115.2 494.4L120.8 500.0M115.2 500.0L120.8 494.4" stroke="#f500f5" stroke-width="1.8" fill="none"/>
<circle cx="130.5" cy="498.9" r="3.95" fill="#f500f5" fill-opacity="0.35" stroke="#f500f5" stroke-width="2.0"/><path d="M127.7 496.1L133.3 501.7M127.7 501.7L133.3 496.1" stroke="#f500f5" stroke-width="1.8" fill="none"/>
<circle cx="146.5" cy="501.2" r="3.95" fill="#f500f5" fill-opacity="0.35" stroke="#f500f5" stroke-width="2.0"/><path d="M143.7 498.4L149.3 504.0M143.7 504.0L149.3 498.4" stroke="#f500f5" stroke-width="1.8" fill="none"/>
<circle cx="155.2" cy="501.8" r="3.95" fill="#f500f5" fill-opacity="0.35" stroke="#f500f5" stroke-width="2.0"/><path d="M152.4 499.0L158.0 504.6M152.4 504.6L158.0 499.0" stroke="#f500f5" stroke-width="1.8" fill="none"/>
<circle cx="165.0" cy="502.6" r="3.95" fill="#f500f5" fill-opacity="0.35" stroke="#f500f5" stroke-width="2.0"/><path d="M162.2 499.8L167.8 505.4M162.2 505.4L167.8 499.8" stroke="#f500f5" stroke-width="1.8" fill="none"/>
<circle cx="175.0" cy="504.2" r="3.95" fill="#f500f5" fill-opacity="0.35" stroke="#f500f5" stroke-width="2.0"/><path d="M172.2 501.4L177.8 507.0M172.2 507.0L177.8 501.4" stroke="#f500f5" stroke-width="1.8" fill="none"/>
<circle cx="205.6" cy="509.5" r="3.95" fill="#f500f5" fill-opacity="0.35" stroke="#f500f5" stroke-width="2.0"/><path d="M202.8 506.7L208.4 512.3M202.8 512.3L208.4 506.7" stroke="#f500f5" stroke-width="1.8" fill="none"/>
<circle cx="227.6" cy="512.4" r="3.95" fill="#f500f5" fill-opacity="0.35" stroke="#f500f5" stroke-width="2.0"/><path d="M224.8 509.6L230.4 515.2M224.8 515.2L230.4 509.6" stroke="#f500f5" stroke-width="1.8" fill="none"/>
<circle cx="257.7" cy="516.9" r="3.95" fill="#f500f5" fill-opacity="0.35" stroke="#f500f5" stroke-width="2.0"/><path d="M254.9 514.1L260.5 519.7M254.9 519.7L260.5 514.1" stroke="#f500f5" stroke-width="1.8" fill="none"/>
<circle cx="306.3" cy="522.7" r="3.95" fill="#f500f5" fill-opacity="0.35" stroke="#f500f5" stroke-width="2.0"/><path d="M303.5 519.9L309.1 525.5M303.5 525.5L309.1 519.9" stroke="#f500f5" stroke-width="1.8" fill="none"/>
<circle cx="444.8" cy="539.0" r="3.95" fill="#f500f5" fill-opacity="0.35" stroke="#f500f5" stroke-width="2.0"/><path d="M442.0 536.2L447.6 541.8M442.0 541.8L447.6 536.2" stroke="#f500f5" stroke-width="1.8" fill="none"/>
<circle cx="467.9" cy="548.5" r="3.95" fill="#f500f5" fill-opacity="0.35" stroke="#f500f5" stroke-width="2.0"/><path d="M465.1 545.7L470.7 551.3M465.1 551.3L470.7 545.7" stroke="#f500f5" stroke-width="1.8" fill="none"/>
<circle cx="497.3" cy="564.3" r="3.95" fill="#f500f5" fill-opacity="0.35" stroke="#f500f5" stroke-width="2.0"/><path d="M494.5 561.5L500.1 567.1M494.5 567.1L500.1 561.5" stroke="#f500f5" stroke-width="1.8" fill="none"/>
<circle cx="118.5" cy="508.3" r="3.95" fill="#0474c4" fill-opacity="0.35" stroke="#0474c4" stroke-width="2.0"/><path d="M115.7 505.5L121.3 511.1M115.7 511.1L121.3 505.5" stroke="#0474c4" stroke-width="1.8" fill="none"/>
<circle cx="120.0" cy="508.5" r="3.95" fill="#0474c4" fill-opacity="0.35" stroke="#0474c4" stroke-width="2.0"/><path d="M117.2 505.7L122.8 511.3M117.2 511.3L122.8 505.7" stroke="#0474c4" stroke-width="1.8" fill="none"/>
<circle cx="121.5" cy="508.7" r="3.95" fill="#0474c4" fill-opacity="0.35" stroke="#0474c4" stroke-width="2.0"/><path d="M118.7 505.9L124.3 511.5M118.7 511.5L124.3 505.9" stroke="#0474c4" stroke-width="1.8" fill="none"/>
<circle cx="123.1" cy="509.0" r="3.95" fill="#0474c4" fill-opacity="0.35" stroke="#0474c4" stroke-width="2.0"/><path d="M120.3 506.2L125.9 511.8M120.3 511.8L125.9 506.2" stroke="#0474c4" stroke-width="1.8" fill="none"/>
<circle cx="124.6" cy="509.2" r="3.95" fill="#0474c4" fill-opacity="0.35" stroke="#0474c4" stroke-width="2.0"/><path d="M121.8 506.4L127.4 512.0M121.8 512.0L127.4 506.4" stroke="#0474c4" stroke-width="1.8" fill="none"/>
<circle cx="126.1" cy="509.4" r="3.95" fill="#0474c4" fill-opacity="0.35" stroke="#0474c4" stroke-width="2.0"/><path d="M123.3 506.6L128.9 512.2M123.3 512.2L128.9 506.6" stroke="#0474c4" stroke-width="1.8" fill="none"/>
<circle cx="127.6" cy="509.6" r="3.95" fill="#0474c4" fill-opacity="0.35" stroke="#0474c4" stroke-width="2.0"/><path d="M124.8 506.8L130.4 512.4M124.8 512.4L130.4 506.8" stroke="#0474c4" stroke-width="1.8" fill="none"/>
<circle cx="129.1" cy="509.8" r="3.95" fill="#0474c4" fill-opacity="0.35" stroke="#0474c4" stroke-width="2.0"/><path d="M126.3 507.0L131.9 512.6M126.3 512.6L131.9 507.0" stroke="#0474c4" stroke-width="1.8" fill="none"/>
<circle cx="130.7" cy="510.0" r="3.95" fill="#0474c4" fill-opacity="0.35" stroke="#0474c4" stroke-width="2.0"/><path d="M127.9 507.2L133.5 512.8M127.9 512.8L133.5 507.2" stroke="#0474c4" stroke-width="1.8" fill="none"/>
<circle cx="132.2" cy="510.3" r="3.95" fill="#0474c4" fill-opacity="0.35" stroke="#0474c4" stroke-width="2.0"/><path d="M129.4 507.5L135.0 513.1M129.4 513.1L135.0 507.5" stroke="#0474c4" stroke-width="1.8" fill="none"/>
<circle cx="133.7" cy="510.5" r="3.95" fill="#0474c4" fill-opacity="0.35" stroke="#0474c4" stroke-width="2.0"/><path d="M130.9 507.7L136.5 513.3M130.9 513.3L136.5 507.7" stroke="#0474c4" stroke-width="1.8" fill="none"/>
<circle cx="135.2" cy="510.7" r="3.95" fill="#0474c4" fill-opacity="0.35" stroke="#0474c4" stroke-width="2.0"/><path d="M132.4 507.9L138.0 513.5M132.4 513.5L138.0 507.9" stroke="#0474c4" stroke-width="1.8" fill="none"/>
<circle cx="136.8" cy="510.9" r="3.95" fill="#0474c4" fill-opacity="0.35" stroke="#0474c4" stroke-width="2.0"/><path d="M134.0 508.1L139.6 513.7M134.0 513.7L139.6 508.1" stroke="#0474c4" stroke-width="1.8" fill="none"/>
<circle cx="138.3" cy="511.1" r="3.95" fill="#0474c4" fill-opacity="0.35" stroke="#0474c4" stroke-width="2.0"/><path d="M135.5 508.3L141.1 513.9M135.5 513.9L141.1 508.3" stroke="#0474c4" stroke-width="1.8" fill="none"/>
<circle cx="139.8" cy="511.3" r="3.95" fill="#0474c4" fill-opacity="0.35" stroke="#0474c4" stroke-width="2.0"/><path d="M137.0 508.5L142.6 514.1M137.0 514.1L142.6 508.5" stroke="#0474c4" stroke-width="1.8" fill="none"/>
<circle cx="141.3" cy="511.6" r="3.95" fill="#0474c4" fill-opacity="0.35" stroke="#0474c4" stroke-width="2.0"/><path d="M138.5 508.8L144.1 514.4M138.5 514.4L144.1 508.8" stroke="#0474c4" stroke-width="1.8" fill="none"/>
<circle cx="142.8" cy="511.8" r="3.95" fill="#0474c4" fill-opacity="0.35" stroke="#0474c4" stroke-width="2.0"/><path d="M140.0 509.0L145.6 514.6M140.0 514.6L145.6 509.0" stroke="#0474c4" stroke-width="1.8" fill="none"/>
<circle cx="144.4" cy="512.0" r="3.95" fill="#0474c4" fill-opacity="0.35" stroke="#0474c4" stroke-width="2.0"/><path d="M141.6 509.2L147.2 514.8M141.6 514.8L147.2 509.2" stroke="#0474c4" stroke-width="1.8" fill="none"/>
<circle cx="145.9" cy="512.2" r="3.95" fill="#0474c4" fill-opacity="0.35" stroke="#0474c4" stroke-width="2.0"/><path d="M143.1 509.4L148.7 515.0M143.1 515.0L148.7 509.4" stroke="#0474c4" stroke-width="1.8" fill="none"/>
<circle cx="147.4" cy="512.4" r="3.95" fill="#0474c4" fill-opacity="0.35" stroke="#0474c4" stroke-width="2.0"/><path d="M144.6 509.6L150.2 515.2M144.6 515.2L150.2 509.6" stroke="#0474c4" stroke-width="1.8" fill="none"/>
<circle cx="148.9" cy="512.6" r="3.95" fill="#0474c4" fill-opacity="0.35" stroke="#0474c4" stroke-width="2.0"/><path d="M146.1 509.8L151.7 515.4M146.1 515.4L151.7 509.8" stroke="#0474c4" stroke-width="1.8" fill="none"/>
<circle cx="150.4" cy="512.9" r="3.95" fill="#0474c4" fill-opacity="0.35" stroke="#0474c4" stroke-width="2.0"/><path d="M147.6 510.1L153.2 515.7M147.6 515.7L153.2 510.1" stroke="#0474c4" stroke-width="1.8" fill="none"/>
<circle cx="152.0" cy="513.1" r="3.95" fill="#0474c4" fill-opacity="0.35" stroke="#0474c4" stroke-width="2.0"/><path d="M149.2 510.3L154.8 515.9M149.2 515.9L154.8 510.3" stroke="#0474c4" stroke-width="1.8" fill="none"/>
<circle cx="153.5" cy="513.3" r="3.95" fill="#0474c4" fill-opacity="0.35" stroke="#0474c4" stroke-width="2.0"/><path d="M150.7 510.5L156.3 516.1M150.7 516.1L156.3 510.5" stroke="#0474c4" stroke-width="1.8" fill="none"/>
<circle cx="155.0" cy="513.5" r="3.95" fill="#0474c4" fill-opacity="0.35" stroke="#0474c4" stroke-width="2.0"/><path d="M152.2 510.7L157.8 516.3M152.2 516.3L157.8 510.7" stroke="#0474c4" stroke-width="1.8" fill="none"/>
<circle cx="156.5" cy="513.7" r="3.95" fill="#0474c4" fill-opacity="0.35" stroke="#0474c4" stroke-width="2.0"/><path d="M153.7 510.9L159.3 516.5M153.7 516.5L159.3 510.9" stroke="#0474c4" stroke-width="1.8" fill="none"/>
<circle cx="158.1" cy="513.9" r="3.95" fill="#0474c4" fill-opacity="0.35" stroke="#0474c4" stroke-width="2.0"/><path d="M155.3 511.1L160.9 516.7M155.3 516.7L160.9 511.1" stroke="#0474c4" stroke-width="1.8" fill="none"/>
<circle cx="159.6" cy="514.2" r="3.95" fill="#0474c4" fill-opacity="0.35" stroke="#0474c4" stroke-width="2.0"/><path d="M156.8 511.4L162.4 517.0M156.8 517.0L162.4 511.4" stroke="#0474c4" stroke-width="1.8" fill="none"/>
<circle cx="161.1" cy="514.4" r="3.95" fill="#0474c4" fill-opacity="0.35" stroke="#0474c4" stroke-width="2.0"/><path d="M158.3 511.6L163.9 517.2M158.3 517.2L163.9 511.6" stroke="#0474c4" stroke-width="1.8" fill="none"/>
<circle cx="162.6" cy="514.6" r="3.95" fill="#0474c4" fill-opacity="0.35" stroke="#0474c4" stroke-width="2.0"/><path d="M159.8 511.8L165.4 517.4M159.8 517.4L165.4 511.8" stroke="#0474c4" stroke-width="1.8" fill="none"/>
<circle cx="164.1" cy="514.8" r="3.95" fill="#0474c4" fill-opacity="0.35" stroke="#0474c4" stroke-width="2.0"/><path d="M161.3 512.0L166.9 517.6M161.3 517.6L166.9 512.0" stroke="#0474c4" stroke-width="1.8" fill="none"/>
<circle cx="165.7" cy="515.0" r="3.95" fill="#0474c4" fill-opacity="0.35" stroke="#0474c4" stroke-width="2.0"/><path d="M162.9 512.2L168.5 517.8M162.9 517.8L168.5 512.2" stroke="#0474c4" stroke-width="1.8" fill="none"/>
<circle cx="167.2" cy="515.2" r="3.95" fill="#0474c4" fill-opacity="0.35" stroke="#0474c4" stroke-width="2.0"/><path d="M164.4 512.4L170.0 518.0M164.4 518.0L170.0 512.4" stroke="#0474c4" stroke-width="1.8" fill="none"/>
<circle cx="168.7" cy="515.5" r="3.95" fill="#0474c4" fill-opacity="0.35" stroke="#0474c4" stroke-width="2.0"/><path d="M165.9 512.7L171.5 518.3M165.9 518.3L171.5 512.7" stroke="#0474c4" stroke-width="1.8" fill="none"/>
<circle cx="170.2" cy="515.7" r="3.95" fill="#0474c4" fill-opacity="0.35" stroke="#0474c4" stroke-width="2.0"/><path d="M167.4 512.9L173.0 518.5M167.4 518.5L173.0 512.9" stroke="#0474c4" stroke-width="1.8" fill="none"/>
<circle cx="171.7" cy="515.9" r="3.95" fill="#0474c4" fill-opacity="0.35" stroke="#0474c4" stroke-width="2.0"/><path d="M168.9 513.1L174.5 518.7M168.9 518.7L174.5 513.1" stroke="#0474c4" stroke-width="1.8" fill="none"/>
<circle cx="173.3" cy="516.1" r="3.95" fill="#0474c4" fill-opacity="0.35" stroke="#0474c4" stroke-width="2.0"/><path d="M170.5 513.3L176.1 518.9M170.5 518.9L176.1 513.3" stroke="#0474c4" stroke-width="1.8" fill="none"/>
<circle cx="174.8" cy="516.3" r="3.95" fill="#0474c4" fill-opacity="0.35" stroke="#0474c4" stroke-width="2.0"/><path d="M172.0 513.5L177.6 519.1M172.0 519.1L177.6 513.5" stroke="#0474c4" stroke-width="1.8" fill="none"/>
<circle cx="176.3" cy="516.5" r="3.95" fill="#0474c4" fill-opacity="0.35" stroke="#0474c4" stroke-width="2.0"/><path d="M173.5 513.7L179.1 519.3M173.5 519.3L179.1 513.7" stroke="#0474c4" stroke-width="1.8" fill="none"/>
<circle cx="177.8" cy="516.8" r="3.95" fill="#0474c4" fill-opacity="0.35" stroke="#0474c4" stroke-width="2.0"/><path d="M175.0 514.0L180.6 519.6M175.0 519.6L180.6 514.0" stroke="#0474c4" stroke-width="1.8" fill="none"/>
<circle cx="179.4" cy="517.0" r="3.95" fill="#0474c4" fill-opacity="0.35" stroke="#0474c4" stroke-width="2.0"/><path d="M176.6 514.2L182.2 519.8M176.6 519.8L182.2 514.2" stroke="#0474c4" stroke-width="1.8" fill="none"/>
<circle cx="180.9" cy="517.2" r="3.95" fill="#0474c4" fill-opacity="0.35" stroke="#0474c4" stroke-width="2.0"/><path d="M178.1 514.4L183.7 520.0M178.1 520.0L183.7 514.4" stroke="#0474c4" stroke-width="1.8" fill="none"/>
<circle cx="182.4" cy="517.4" r="3.95" fill="#0474c4" fill-opacity="0.35" stroke="#0474c4" stroke-width="2.0"/><path d="M179.6 514.6L185.2 520.2M179.6 520.2L185.2 514.6" stroke="#0474c4" stroke-width="1.8" fill="none"/>
<circle cx="183.9" cy="517.6" r="3.95" fill="#0474c4" fill-opacity="0.35" stroke="#0474c4" stroke-width="2.0"/><path d="M181.1 514.8L186.7 520.4M181.1 520.4L186.7 514.8" stroke="#0474c4" stroke-width="1.8" fill="none"/>
<circle cx="185.4" cy="517.8" r="3.95" fill="#0474c4" fill-opacity="0.35" stroke="#0474c4" stroke-width="2.0"/><path d="M182.6 515.0L188.2 520.6M182.6 520.6L188.2 515.0" stroke="#0474c4" stroke-width="1.8" fill="none"/>
<circle cx="187.0" cy="518.1" r="3.95" fill="#0474c4" fill-opacity="0.35" stroke="#0474c4" stroke-width="2.0"/><path d="M184.2 515.3L189.8 520.9M184.2 520.9L189.8 515.3" stroke="#0474c4" stroke-width="1.8" fill="none"/>
<circle cx="188.5" cy="518.3" r="3.95" fill="#0474c4" fill-opacity="0.35" stroke="#0474c4" stroke-width="2.0"/><path d="M185.7 515.5L191.3 521.1M185.7 521.1L191.3 515.5" stroke="#0474c4" stroke-width="1.8" fill="none"/>
<circle cx="190.0" cy="518.5" r="3.95" fill="#0474c4" fill-opacity="0.35" stroke="#0474c4" stroke-width="2.0"/><path d="M187.2 515.7L192.8 521.3M187.2 521.3L192.8 515.7" stroke="#0474c4" stroke-width="1.8" fill="none"/>
<circle cx="195.4" cy="520.6" r="3.95" fill="#0474c4" fill-opacity="0.35" stroke="#0474c4" stroke-width="2.0"/><path d="M192.6 517.8L198.2 523.4M192.6 523.4L198.2 517.8" stroke="#0474c4" stroke-width="1.8" fill="none"/>
<circle cx="205.8" cy="522.8" r="3.95" fill="#0474c4" fill-opacity="0.35" stroke="#0474c4" stroke-width="2.0"/><path d="M203.0 520.0L208.6 525.6M203.0 525.6L208.6 520.0" stroke="#0474c4" stroke-width="1.8" fill="none"/>
<circle cx="216.1" cy="525.7" r="3.95" fill="#0474c4" fill-opacity="0.35" stroke="#0474c4" stroke-width="2.0"/><path d="M213.3 522.9L218.9 528.5M213.3 528.5L218.9 522.9" stroke="#0474c4" stroke-width="1.8" fill="none"/>
<circle cx="227.7" cy="528.6" r="3.95" fill="#0474c4" fill-opacity="0.35" stroke="#0474c4" stroke-width="2.0"/><path d="M224.9 525.8L230.5 531.4M224.9 531.4L230.5 525.8" stroke="#0474c4" stroke-width="1.8" fill="none"/>
<circle cx="241.3" cy="533.5" r="3.95" fill="#0474c4" fill-opacity="0.35" stroke="#0474c4" stroke-width="2.0"/><path d="M238.5 530.7L244.1 536.3M238.5 536.3L244.1 530.7" stroke="#0474c4" stroke-width="1.8" fill="none"/>
<circle cx="258.0" cy="539.2" r="3.95" fill="#0474c4" fill-opacity="0.35" stroke="#0474c4" stroke-width="2.0"/><path d="M255.2 536.4L260.8 542.0M255.2 542.0L260.8 536.4" stroke="#0474c4" stroke-width="1.8" fill="none"/>
<circle cx="279.2" cy="546.3" r="3.95" fill="#0474c4" fill-opacity="0.35" stroke="#0474c4" stroke-width="2.0"/><path d="M276.4 543.5L282.0 549.1M276.4 549.1L282.0 543.5" stroke="#0474c4" stroke-width="1.8" fill="none"/>
<circle cx="306.3" cy="555.8" r="3.95" fill="#0474c4" fill-opacity="0.35" stroke="#0474c4" stroke-width="2.0"/><path d="M303.5 553.0L309.1 558.6M303.5 558.6L309.1 553.0" stroke="#0474c4" stroke-width="1.8" fill="none"/>
<circle cx="328.5" cy="566.2" r="3.95" fill="#0474c4" fill-opacity="0.35" stroke="#0474c4" stroke-width="2.0"/><path d="M325.7 563.4L331.3 569.0M325.7 569.0L331.3 563.4" stroke="#0474c4" stroke-width="1.8" fill="none"/>
<circle cx="444.8" cy="629.2" r="3.95" fill="#0474c4" fill-opacity="0.35" stroke="#0474c4" stroke-width="2.0"/><path d="M442.0 626.4L447.6 632.0M442.0 632.0L447.6 626.4" stroke="#0474c4" stroke-width="1.8" fill="none"/>
<circle cx="467.9" cy="676.6" r="3.95" fill="#0474c4" fill-opacity="0.35" stroke="#0474c4" stroke-width="2.0"/><path d="M465.1 673.8L470.7 679.4M465.1 679.4L470.7 673.8" stroke="#0474c4" stroke-width="1.8" fill="none"/>
<circle cx="497.3" cy="737.7" r="3.95" fill="#0474c4" fill-opacity="0.35" stroke="#0474c4" stroke-width="2.0"/><path d="M494.5 734.9L500.1 740.5M494.5 740.5L500.1 734.9" stroke="#0474c4" stroke-width="1.8" fill="none"/>
<circle cx="99.8" cy="497.2" r="3.95" fill="#f1bb12" fill-opacity="0.35" stroke="#f1bb12" stroke-width="2.0"/><path d="M97.0 494.4L102.6 500.0M97.0 500.0L102.6 494.4" stroke="#f1bb12" stroke-width="1.8" fill="none"/>
<circle cx="108.4" cy="498.2" r="3.95" fill="#f1bb12" fill-opacity="0.35" stroke="#f1bb12" stroke-width="2.0"/><path d="M105.6 495.4L111.2 501.0M105.6 501.0L111.2 495.4" stroke="#f1bb12" stroke-width="1.8" fill="none"/>
<circle cx="118.0" cy="499.5" r="3.95" fill="#f1bb12" fill-opacity="0.35" stroke="#f1bb12" stroke-width="2.0"/><path d="M115.2 496.7L120.8 502.3M115.2 502.3L120.8 496.7" stroke="#f1bb12" stroke-width="1.8" fill="none"/>
<circle cx="130.5" cy="501.3" r="3.95" fill="#f1bb12" fill-opacity="0.35" stroke="#f1bb12" stroke-width="2.0"/><path d="M127.7 498.5L133.3 504.1M127.7 504.1L133.3 498.5" stroke="#f1bb12" stroke-width="1.8" fill="none"/>
<circle cx="146.5" cy="505.0" r="3.95" fill="#f1bb12" fill-opacity="0.35" stroke="#f1bb12" stroke-width="2.0"/><path d="M143.7 502.2L149.3 507.8M143.7 507.8L149.3 502.2" stroke="#f1bb12" stroke-width="1.8" fill="none"/>
<circle cx="155.2" cy="506.4" r="3.95" fill="#f1bb12" fill-opacity="0.35" stroke="#f1bb12" stroke-width="2.0"/><path d="M152.4 503.6L158.0 509.2M152.4 509.2L158.0 503.6" stroke="#f1bb12" stroke-width="1.8" fill="none"/>
<circle cx="165.0" cy="508.2" r="3.95" fill="#f1bb12" fill-opacity="0.35" stroke="#f1bb12" stroke-width="2.0"/><path d="M162.2 505.4L167.8 511.0M162.2 511.0L167.8 505.4" stroke="#f1bb12" stroke-width="1.8" fill="none"/>
<circle cx="174.8" cy="511.0" r="3.95" fill="#f1bb12" fill-opacity="0.35" stroke="#f1bb12" stroke-width="2.0"/><path d="M172.0 508.2L177.6 513.8M172.0 513.8L177.6 508.2" stroke="#f1bb12" stroke-width="1.8" fill="none"/>
<circle cx="188.0" cy="514.0" r="3.95" fill="#f1bb12" fill-opacity="0.35" stroke="#f1bb12" stroke-width="2.0"/><path d="M185.2 511.2L190.8 516.8M185.2 516.8L190.8 511.2" stroke="#f1bb12" stroke-width="1.8" fill="none"/>
<circle cx="205.3" cy="516.6" r="3.95" fill="#f1bb12" fill-opacity="0.35" stroke="#f1bb12" stroke-width="2.0"/><path d="M202.5 513.8L208.1 519.4M202.5 519.4L208.1 513.8" stroke="#f1bb12" stroke-width="1.8" fill="none"/>
<circle cx="227.7" cy="521.6" r="3.95" fill="#f1bb12" fill-opacity="0.35" stroke="#f1bb12" stroke-width="2.0"/><path d="M224.9 518.8L230.5 524.4M224.9 524.4L230.5 518.8" stroke="#f1bb12" stroke-width="1.8" fill="none"/>
<circle cx="257.7" cy="529.0" r="3.95" fill="#f1bb12" fill-opacity="0.35" stroke="#f1bb12" stroke-width="2.0"/><path d="M254.9 526.2L260.5 531.8M254.9 531.8L260.5 526.2" stroke="#f1bb12" stroke-width="1.8" fill="none"/>
<circle cx="306.3" cy="540.6" r="3.95" fill="#f1bb12" fill-opacity="0.35" stroke="#f1bb12" stroke-width="2.0"/><path d="M303.5 537.8L309.1 543.4M303.5 543.4L309.1 537.8" stroke="#f1bb12" stroke-width="1.8" fill="none"/>
<circle cx="444.8" cy="596.0" r="3.95" fill="#f1bb12" fill-opacity="0.35" stroke="#f1bb12" stroke-width="2.0"/><path d="M442.0 593.2L447.6 598.8M442.0 598.8L447.6 593.2" stroke="#f1bb12" stroke-width="1.8" fill="none"/>
<circle cx="467.9" cy="620.0" r="3.95" fill="#f1bb12" fill-opacity="0.35" stroke="#f1bb12" stroke-width="2.0"/><path d="M465.1 617.2L470.7 622.8M465.1 622.8L470.7 617.2" stroke="#f1bb12" stroke-width="1.8" fill="none"/>
<circle cx="497.3" cy="667.8" r="3.95" fill="#f1bb12" fill-opacity="0.35" stroke="#f1bb12" stroke-width="2.0"/><path d="M494.5 665.0L500.1 670.6M494.5 670.6L500.1 665.0" stroke="#f1bb12" stroke-width="1.8" fill="none"/>
<path d="M100.0 492.3 L504.0 565.3" stroke="#f500f5" stroke-width="1.9" fill="none" stroke-dasharray="15 11.5" stroke-dashoffset="1.96"/>
<path d="M100.0 494.2 L504.0 567.2" stroke="#f500f5" stroke-width="1.9" fill="none" stroke-dasharray="2 1.2"/>
<path d="M100.0 496.5 L230.0 531.0 L504.0 604.8" stroke="#f1bb12" stroke-width="1.9" fill="none" stroke-dasharray="15 11.5" stroke-dashoffset="19.96"/>
<path d="M100.0 495.5 L230.0 531.0 L410.0 585.0 L504.0 611.8" stroke="#f1bb12" stroke-width="1.9" fill="none" stroke-dasharray="2 1.2"/>
<path d="M115.0 505.0 L504.0 615.6" stroke="#0474c4" stroke-width="1.9" fill="none" stroke-dasharray="15 11.5" stroke-dashoffset="7.15"/>
<path d="M97.6 497.8 L240.0 542.5 L340.0 573.3 L410.0 596.0 L504.0 627.6" stroke="#0474c4" stroke-width="1.9" fill="none" stroke-dasharray="2 1.2"/>
<line x1="116.06" y1="767.0" x2="116.06" y2="762.5" stroke="#262626" stroke-width="1.1"/>
<line x1="116.06" y1="440.0" x2="116.06" y2="444.5" stroke="#262626" stroke-width="1.1"/>
<line x1="164.61" y1="767.0" x2="164.61" y2="762.5" stroke="#262626" stroke-width="1.1"/>
<line x1="164.61" y1="440.0" x2="164.61" y2="444.5" stroke="#262626" stroke-width="1.1"/>
<line x1="213.17" y1="767.0" x2="213.17" y2="762.5" stroke="#262626" stroke-width="1.1"/>
<line x1="213.17" y1="440.0" x2="213.17" y2="444.5" stroke="#262626" stroke-width="1.1"/>
<line x1="261.72" y1="767.0" x2="261.72" y2="762.5" stroke="#262626" stroke-width="1.1"/>
<line x1="261.72" y1="440.0" x2="261.72" y2="444.5" stroke="#262626" stroke-width="1.1"/>
<line x1="310.28" y1="767.0" x2="310.28" y2="762.5" stroke="#262626" stroke-width="1.1"/>
<line x1="310.28" y1="440.0" x2="310.28" y2="444.5" stroke="#262626" stroke-width="1.1"/>
<line x1="358.83" y1="767.0" x2="358.83" y2="762.5" stroke="#262626" stroke-width="1.1"/>
<line x1="358.83" y1="440.0" x2="358.83" y2="444.5" stroke="#262626" stroke-width="1.1"/>
<line x1="407.39" y1="767.0" x2="407.39" y2="762.5" stroke="#262626" stroke-width="1.1"/>
<line x1="407.39" y1="440.0" x2="407.39" y2="444.5" stroke="#262626" stroke-width="1.1"/>
<line x1="455.94" y1="767.0" x2="455.94" y2="762.5" stroke="#262626" stroke-width="1.1"/>
<line x1="455.94" y1="440.0" x2="455.94" y2="444.5" stroke="#262626" stroke-width="1.1"/>
<line x1="67.5" y1="604.00" x2="72.0" y2="604.00" stroke="#262626" stroke-width="1.1"/>
<line x1="504.5" y1="604.00" x2="500.0" y2="604.00" stroke="#262626" stroke-width="1.1"/>
<line x1="67.5" y1="554.63" x2="70.2" y2="554.63" stroke="#262626" stroke-width="1.1"/>
<line x1="504.5" y1="554.63" x2="501.8" y2="554.63" stroke="#262626" stroke-width="1.1"/>
<line x1="67.5" y1="525.75" x2="70.2" y2="525.75" stroke="#262626" stroke-width="1.1"/>
<line x1="504.5" y1="525.75" x2="501.8" y2="525.75" stroke="#262626" stroke-width="1.1"/>
<line x1="67.5" y1="505.26" x2="70.2" y2="505.26" stroke="#262626" stroke-width="1.1"/>
<line x1="504.5" y1="505.26" x2="501.8" y2="505.26" stroke="#262626" stroke-width="1.1"/>
<line x1="67.5" y1="489.37" x2="70.2" y2="489.37" stroke="#262626" stroke-width="1.1"/>
<line x1="504.5" y1="489.37" x2="501.8" y2="489.37" stroke="#262626" stroke-width="1.1"/>
<line x1="67.5" y1="476.38" x2="70.2" y2="476.38" stroke="#262626" stroke-width="1.1"/>
<line x1="504.5" y1="476.38" x2="501.8" y2="476.38" stroke="#262626" stroke-width="1.1"/>
<line x1="67.5" y1="465.40" x2="70.2" y2="465.40" stroke="#262626" stroke-width="1.1"/>
<line x1="504.5" y1="465.40" x2="501.8" y2="465.40" stroke="#262626" stroke-width="1.1"/>
<line x1="67.5" y1="455.89" x2="70.2" y2="455.89" stroke="#262626" stroke-width="1.1"/>
<line x1="504.5" y1="455.89" x2="501.8" y2="455.89" stroke="#262626" stroke-width="1.1"/>
<line x1="67.5" y1="447.50" x2="70.2" y2="447.50" stroke="#262626" stroke-width="1.1"/>
<line x1="504.5" y1="447.50" x2="501.8" y2="447.50" stroke="#262626" stroke-width="1.1"/>
<line x1="67.5" y1="718.63" x2="70.2" y2="718.63" stroke="#262626" stroke-width="1.1"/>
<line x1="504.5" y1="718.63" x2="501.8" y2="718.63" stroke="#262626" stroke-width="1.1"/>
<line x1="67.5" y1="689.75" x2="70.2" y2="689.75" stroke="#262626" stroke-width="1.1"/>
<line x1="504.5" y1="689.75" x2="501.8" y2="689.75" stroke="#262626" stroke-width="1.1"/>
<line x1="67.5" y1="669.26" x2="70.2" y2="669.26" stroke="#262626" stroke-width="1.1"/>
<line x1="504.5" y1="669.26" x2="501.8" y2="669.26" stroke="#262626" stroke-width="1.1"/>
<line x1="67.5" y1="653.37" x2="70.2" y2="653.37" stroke="#262626" stroke-width="1.1"/>
<line x1="504.5" y1="653.37" x2="501.8" y2="653.37" stroke="#262626" stroke-width="1.1"/>
<line x1="67.5" y1="640.38" x2="70.2" y2="640.38" stroke="#262626" stroke-width="1.1"/>
<line x1="504.5" y1="640.38" x2="501.8" y2="640.38" stroke="#262626" stroke-width="1.1"/>
<line x1="67.5" y1="629.40" x2="70.2" y2="629.40" stroke="#262626" stroke-width="1.1"/>
<line x1="504.5" y1="629.40" x2="501.8" y2="629.40" stroke="#262626" stroke-width="1.1"/>
<line x1="67.5" y1="619.89" x2="70.2" y2="619.89" stroke="#262626" stroke-width="1.1"/>
<line x1="504.5" y1="619.89" x2="501.8" y2="619.89" stroke="#262626" stroke-width="1.1"/>
<line x1="67.5" y1="611.50" x2="70.2" y2="611.50" stroke="#262626" stroke-width="1.1"/>
<line x1="504.5" y1="611.50" x2="501.8" y2="611.50" stroke="#262626" stroke-width="1.1"/>
<rect x="67.5" y="440.0" width="437.0" height="327.0" fill="none" stroke="#262626" stroke-width="1.3"/>
<text x="69.00" y="788.0" font-size="16.5" text-anchor="middle" fill="#262626">0.3</text>
<text x="117.56" y="788.0" font-size="16.5" text-anchor="middle" fill="#262626">0.4</text>
<text x="166.11" y="788.0" font-size="16.5" text-anchor="middle" fill="#262626">0.5</text>
<text x="214.67" y="788.0" font-size="16.5" text-anchor="middle" fill="#262626">0.6</text>
<text x="263.22" y="788.0" font-size="16.5" text-anchor="middle" fill="#262626">0.7</text>
<text x="311.78" y="788.0" font-size="16.5" text-anchor="middle" fill="#262626">0.8</text>
<text x="360.33" y="788.0" font-size="16.5" text-anchor="middle" fill="#262626">0.9</text>
<text x="408.89" y="788.0" font-size="16.5" text-anchor="middle" fill="#262626">1</text>
<text x="457.44" y="788.0" font-size="16.5" text-anchor="middle" fill="#262626">1.1</text>
<text x="506.00" y="788.0" font-size="16.5" text-anchor="middle" fill="#262626">1.2</text>
<text x="58.2" y="446.90" font-size="16.5" text-anchor="end" fill="#262626">-4</text>
<text x="58.2" y="603.80" font-size="16.5" text-anchor="end" fill="#262626">-5</text>
<rect x="82.3" y="632" width="115.3" height="63.2" fill="#fff" stroke="#b4b4bc" stroke-width="1"/>
<path d="M88.2 640.7L94.0 646.5M88.2 646.5L94.0 640.7" stroke="#f500f5" stroke-width="1.9" fill="none"/>
<circle cx="103.0" cy="643.6" r="4" fill="none" stroke="#f500f5" stroke-width="1.9"/>
<text x="113.1" y="647.7" font-size="13.3" fill="#262626">V</text>
<text x="123.1" y="652.9" font-size="9" fill="#262626">Gate</text>
<text x="143.2" y="647.7" font-size="13.3" fill="#262626">= –8 V</text>
<path d="M88.2 660.5L94.0 666.3M88.2 666.3L94.0 660.5" stroke="#0474c4" stroke-width="1.9" fill="none"/>
<circle cx="103.0" cy="663.4" r="4" fill="none" stroke="#0474c4" stroke-width="1.9"/>
<text x="113.1" y="667.5" font-size="13.3" fill="#262626">V</text>
<text x="123.1" y="672.7" font-size="9" fill="#262626">Gate</text>
<text x="143.2" y="667.5" font-size="13.3" fill="#262626">= –1.9 V</text>
<path d="M88.2 680.3L94.0 686.1M88.2 686.1L94.0 680.3" stroke="#f1bb12" stroke-width="1.9" fill="none"/>
<circle cx="103.0" cy="683.2" r="4" fill="none" stroke="#f1bb12" stroke-width="1.9"/>
<text x="113.1" y="687.3" font-size="13.3" fill="#262626">V</text>
<text x="123.1" y="692.5" font-size="9" fill="#262626">Gate</text>
<text x="143.2" y="687.3" font-size="13.3" fill="#262626">= –0.3 V</text>
<rect x="93.9" y="705.4" width="93.8" height="35" fill="#fff" stroke="#262626" stroke-width="1.1"/>
<circle cx="103.9" cy="714.9" r="3.6" fill="none" stroke="#858585" stroke-width="1.9"/>
<path d="M101.3 728.8L106.5 734.0M101.3 734.0L106.5 728.8" stroke="#858585" stroke-width="1.8" fill="none"/>
<text x="114.9" y="719.5" font-size="13.65" fill="#262626">–5 T to 5 T</text>
<text x="114.9" y="736.0" font-size="13.65" fill="#262626">5 T to –5 T</text>
<rect x="225" y="678.75" width="113.2" height="34.5" fill="#fff" stroke="#7a7a7a" stroke-width="1.1"/>
<path d="M230 688.25H272" stroke="#000" stroke-width="2.2" stroke-dasharray="15.5 11"/>
<path d="M229 704.95H271" stroke="#000" stroke-width="2.2" stroke-dasharray="2 1.5"/>
<text x="279.0" y="692.8" font-size="13.3" fill="#262626">VRH</text>
<text x="280.0" y="709.5" font-size="13.3" fill="#262626">VRH+FD</text>
<rect x="430.7" y="451.2" width="61.1" height="20.8" fill="#fff" stroke="#262626" stroke-width="1.1"/>
<text x="342.28" y="467.4" font-size="17" font-family="Liberation Serif" fill="#1a1a1a" transform="scale(1.27,1)">α</text>
<path d="M449.7 460.2H461.7M449.7 464.0H461.7" stroke="#111" stroke-width="0.9"/>
<text x="464.9" y="467.4" font-size="16.5" font-family="Liberation Serif" fill="#111" letter-spacing="1.1">1/3</text>
<text x="0.3" y="17.6" font-size="22" fill="#1a1a1a">(a)</text>
<text x="0.3" y="442.9" font-size="22" fill="#1a1a1a">(b)</text>
<g transform="translate(23.0,245.3) rotate(-90)" fill="#1a1a1a"><text y="0" font-size="20.8" font-family="Liberation Serif" transform="scale(0.78,1)" x="-0.8">L</text><text y="0" font-size="19" font-family="Liberation Serif" x="8.4 17.9">og</text><text y="1.2" font-size="22.5" font-family="Liberation Serif" x="30.8">[</text><text y="0" font-size="17.8" font-family="Liberation Serif" transform="scale(1.32,1)" x="29.0">σ</text><text y="7.4" font-size="12" x="52.3 58.3">xx</text><text y="0" font-size="20" x="73.3">(</text><text y="0" font-size="20" font-style="italic" x="82.1">e</text><text y="0" font-size="20" x="94.2">²</text><text y="0" font-size="20" font-style="italic" x="100.6 106.2">/h</text><text y="0" font-size="20" x="119.2 128.2">)]</text></g>
<g transform="translate(23.0,673.5) rotate(-90)" fill="#1a1a1a"><text y="0" font-size="20.8" font-family="Liberation Serif" transform="scale(0.78,1)" x="-0.8">L</text><text y="0" font-size="19" font-family="Liberation Serif" x="8.4 17.9">og</text><text y="1.2" font-size="22.5" font-family="Liberation Serif" x="30.8">[</text><text y="0" font-size="17.8" font-family="Liberation Serif" transform="scale(1.32,1)" x="29.0">σ</text><text y="7.4" font-size="12" x="52.3 58.3">xx</text><text y="0" font-size="20" x="73.3">(</text><text y="0" font-size="20" font-style="italic" x="82.1">e</text><text y="0" font-size="20" x="94.2">²</text><text y="0" font-size="20" font-style="italic" x="100.6 106.2">/h</text><text y="0" font-size="20" x="119.2 128.2">)]</text></g>
<text y="389.9" font-size="19" fill="#1a1a1a" x="250.6">T</text>
<text y="383.8" font-size="11" fill="#1a1a1a" x="261.8">-α</text>
<text y="389.9" font-size="19" fill="#1a1a1a" x="277.4 282.4">(K</text>
<text y="383.8" font-size="11" fill="#1a1a1a" x="296.4">-α</text>
<text y="389.9" font-size="19" fill="#1a1a1a" x="306.9">)</text>
<text y="815.5" font-size="19" fill="#1a1a1a" x="250.6">T</text>
<text y="809.4" font-size="11" fill="#1a1a1a" x="261.8">-α</text>
<text y="815.5" font-size="19" fill="#1a1a1a" x="277.4 282.4">(K</text>
<text y="809.4" font-size="11" fill="#1a1a1a" x="296.4">-α</text>
<text y="815.5" font-size="19" fill="#1a1a1a" x="306.9">)</text>
</svg>
</body></html>
